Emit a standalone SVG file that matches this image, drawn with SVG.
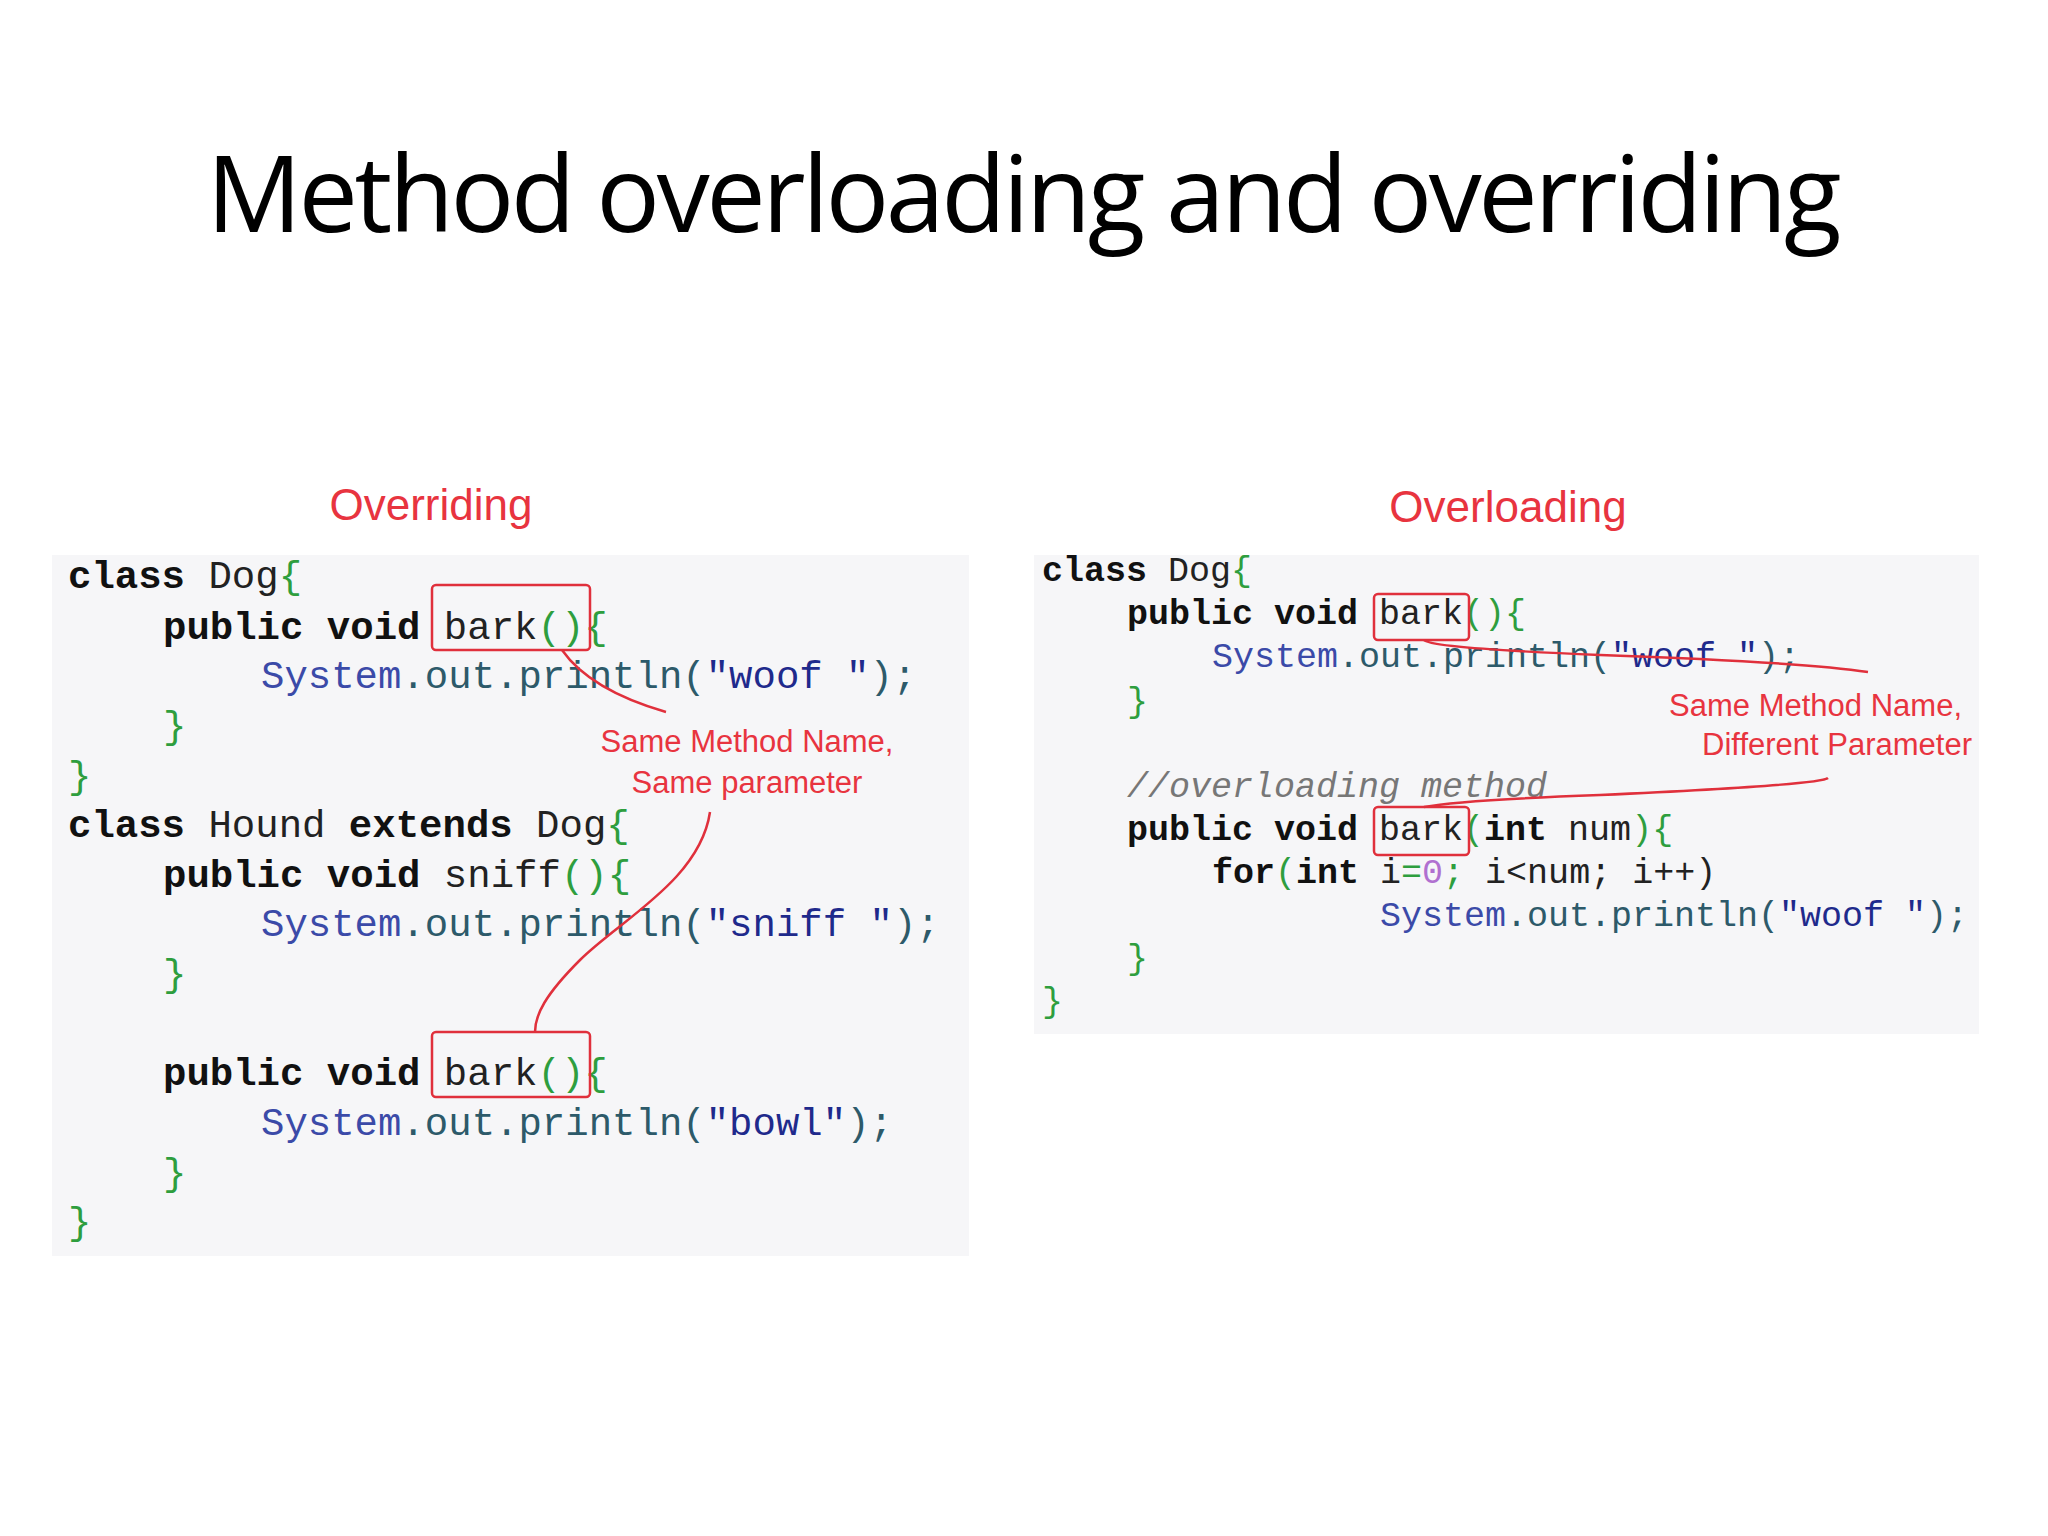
<svg xmlns="http://www.w3.org/2000/svg" width="2048" height="1536" viewBox="0 0 2048 1536">
<style>
.t{font-family:"Open Sans","Liberation Sans",sans-serif;font-size:106px;fill:#000}
.c{font-family:"Liberation Mono","DejaVu Sans Mono",monospace;fill:#222;white-space:pre}
.L{font-size:39px}.R{font-size:35px}
.k{font-weight:bold;fill:#111}
.g{fill:#2e9e3e}.b{fill:#3b4aa8}.s{fill:#1f2a8c}.tl{fill:#2d5a6a}.cm{fill:#777;font-style:italic}.p{fill:#b070d0}
.a{font-family:"Liberation Sans",sans-serif;fill:#e8343f}
.box{fill:none;stroke:#e0303c;stroke-width:2.5}
.ln{fill:none;stroke:#e0303c;stroke-width:2.5}
</style>
<rect width="2048" height="1536" fill="#fff"/>
<text class="t" x="1024" y="232" text-anchor="middle" textLength="1635">Method overloading and overriding</text>
<rect x="52" y="555" width="917" height="701" fill="#f6f6f8"/>
<rect x="1034" y="555" width="945" height="479" fill="#f6f6f8"/>
<g id="left-code" class="c L">
<text x="68" y="588"><tspan class="k">class</tspan> Dog<tspan class="g">{</tspan></text>
<text x="163" y="639"><tspan class="k">public void</tspan> bark<tspan class="g">(){</tspan></text>
<text x="261" y="688"><tspan class="b">System</tspan><tspan class="tl">.out.println(</tspan><tspan class="s">"woof "</tspan><tspan class="tl">);</tspan></text>
<text x="163" y="738" class="g">}</text>
<text x="68" y="788" class="g">}</text>
<text x="68" y="837"><tspan class="k">class</tspan> Hound <tspan class="k">extends</tspan> Dog<tspan class="g">{</tspan></text>
<text x="163" y="887"><tspan class="k">public void</tspan> sniff<tspan class="g">(){</tspan></text>
<text x="261" y="936"><tspan class="b">System</tspan><tspan class="tl">.out.println(</tspan><tspan class="s">"sniff "</tspan><tspan class="tl">);</tspan></text>
<text x="163" y="986" class="g">}</text>
<text x="163" y="1085"><tspan class="k">public void</tspan> bark<tspan class="g">(){</tspan></text>
<text x="261" y="1135"><tspan class="b">System</tspan><tspan class="tl">.out.println(</tspan><tspan class="s">"bowl"</tspan><tspan class="tl">);</tspan></text>
<text x="163" y="1185" class="g">}</text>
<text x="68" y="1234" class="g">}</text>
</g>
<g id="right-code" class="c R">
<text x="1042" y="581"><tspan class="k">class</tspan> Dog<tspan class="g">{</tspan></text>
<text x="1127" y="624"><tspan class="k">public void</tspan> bark<tspan class="g">(){</tspan></text>
<text x="1212" y="667"><tspan class="b">System</tspan><tspan class="tl">.out.println(</tspan><tspan class="s">"woof "</tspan><tspan class="tl">);</tspan></text>
<text x="1127" y="712" class="g">}</text>
<text x="1127" y="797" class="cm">//overloading method</text>
<text x="1127" y="840"><tspan class="k">public void</tspan> bark<tspan class="g">(</tspan><tspan class="k">int</tspan> num<tspan class="g">){</tspan></text>
<text x="1212" y="883"><tspan class="k">for</tspan><tspan class="g">(</tspan><tspan class="k">int</tspan> i<tspan class="g">=</tspan><tspan class="p">0</tspan><tspan class="g">;</tspan> i&lt;num; i++)</text>
<text x="1380" y="926"><tspan class="b">System</tspan><tspan class="tl">.out.println(</tspan><tspan class="s">"woof "</tspan><tspan class="tl">);</tspan></text>
<text x="1127" y="969" class="g">}</text>
<text x="1042" y="1012" class="g">}</text>
</g>
<g id="labels">
<text class="a" x="431" y="520" font-size="44" text-anchor="middle">Overriding</text>
<text class="a" x="1508" y="522" font-size="44" text-anchor="middle">Overloading</text>
<text class="a" x="747" y="752" font-size="31" text-anchor="middle">Same Method Name,</text>
<text class="a" x="747" y="793" font-size="31" text-anchor="middle">Same parameter</text>
<text class="a" x="1962" y="716" font-size="31" text-anchor="end">Same Method Name,</text>
<text class="a" x="1972" y="755" font-size="31" text-anchor="end">Different Parameter</text>
</g>
<g id="boxes">
<rect class="box" x="432" y="585" width="158" height="65" rx="4"/>
<rect class="box" x="432" y="1032" width="158" height="65" rx="4"/>
<rect class="box" x="1374" y="594" width="95" height="46" rx="4"/>
<rect class="box" x="1374" y="807" width="95" height="48" rx="4"/>
</g>
<g id="connectors">
<path class="ln" d="M562 650 Q590 690 666 712"/>
<path class="ln" d="M710 812 C700 880 620 920 580 960 C545 995 535 1015 535 1032"/>
<path class="ln" d="M1424 640 Q1430 648 1600 655 Q1800 662 1868 672"/>
<path class="ln" d="M1828 778 Q1820 785 1600 795 Q1460 800 1424 807"/>
</g>
</svg>
